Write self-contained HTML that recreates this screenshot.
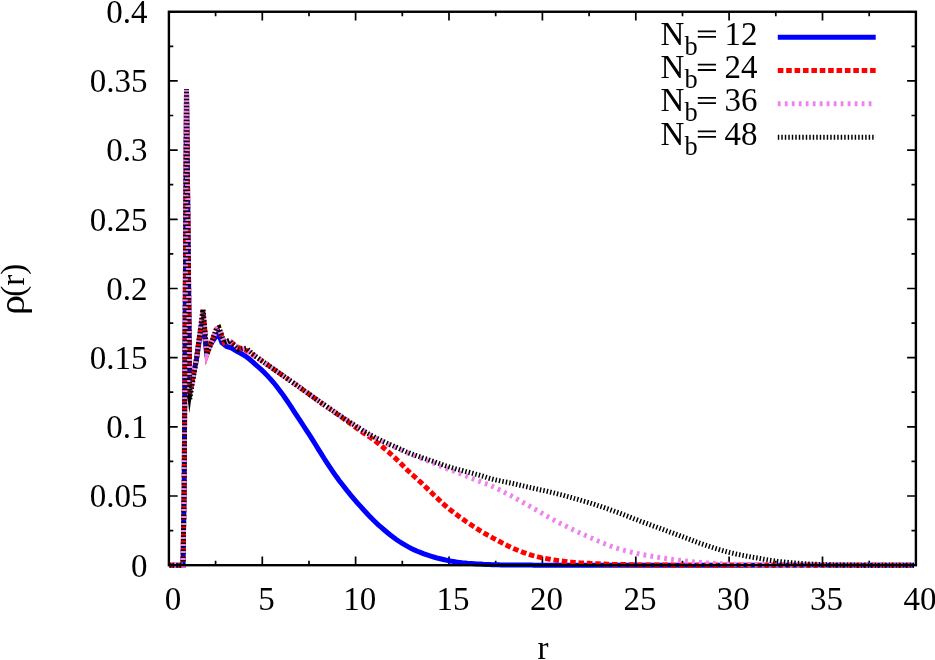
<!DOCTYPE html>
<html><head><meta charset="utf-8"><title>rho(r)</title>
<style>
html,body{margin:0;padding:0;background:#fff;}
body{width:935px;height:660px;overflow:hidden;}
svg{display:block;will-change:transform;}
text{font-family:"Liberation Serif",serif;font-size:33px;fill:#000;}
</style></head><body>
<svg width="935" height="660" viewBox="0 0 935 660">
<rect width="935" height="660" fill="#fff"/>
<g stroke="#000" fill="none" stroke-linecap="butt">
<path d="M168.9,565.2h8.8 M915.9,565.2h-8.8 M168.9,530.6h4.4 M915.9,530.6h-4.4 M168.9,496.0h8.8 M915.9,496.0h-8.8 M168.9,461.4h4.4 M915.9,461.4h-4.4 M168.9,426.8h8.8 M915.9,426.8h-8.8 M168.9,392.2h4.4 M915.9,392.2h-4.4 M168.9,357.7h8.8 M915.9,357.7h-8.8 M168.9,323.1h4.4 M915.9,323.1h-4.4 M168.9,288.5h8.8 M915.9,288.5h-8.8 M168.9,253.9h4.4 M915.9,253.9h-4.4 M168.9,219.3h8.8 M915.9,219.3h-8.8 M168.9,184.7h4.4 M915.9,184.7h-4.4 M168.9,150.1h8.8 M915.9,150.1h-8.8 M168.9,115.5h4.4 M915.9,115.5h-4.4 M168.9,80.9h8.8 M915.9,80.9h-8.8 M168.9,46.3h4.4 M915.9,46.3h-4.4 M168.9,11.8h8.8 M915.9,11.8h-8.8 M168.9,565.2v-8.8 M168.9,11.8v8.8 M215.6,565.2v-4.4 M215.6,11.8v4.4 M262.3,565.2v-8.8 M262.3,11.8v8.8 M309.0,565.2v-4.4 M309.0,11.8v4.4 M355.6,565.2v-8.8 M355.6,11.8v8.8 M402.3,565.2v-4.4 M402.3,11.8v4.4 M449.0,565.2v-8.8 M449.0,11.8v8.8 M495.7,565.2v-4.4 M495.7,11.8v4.4 M542.4,565.2v-8.8 M542.4,11.8v8.8 M589.1,565.2v-4.4 M589.1,11.8v4.4 M635.8,565.2v-8.8 M635.8,11.8v8.8 M682.5,565.2v-4.4 M682.5,11.8v4.4 M729.1,565.2v-8.8 M729.1,11.8v8.8 M775.8,565.2v-4.4 M775.8,11.8v4.4 M822.5,565.2v-8.8 M822.5,11.8v8.8 M869.2,565.2v-4.4 M869.2,11.8v4.4 M915.9,565.2v-8.8 M915.9,11.8v8.8" stroke-width="1.7"/>
</g>
<clipPath id="c"><rect x="167.7" y="10.6" width="749.4" height="557.5"/></clipPath>
<g clip-path="url(#c)">
<polyline points="169.5,565.2 183.0,565.2 184.2,488.0 186.5,89.0 189.8,393.0 196.5,359.0 202.8,318.0 206.3,350.5 218.2,333.2 221.9,342.6 226.6,346.4 231.2,347.8 237.3,351.5 240.3,353.0 243.3,354.8 246.3,356.7 249.3,359.0 252.3,361.6 255.3,364.3 258.3,367.0 261.3,369.6 264.3,372.5 267.3,375.6 270.3,378.9 273.3,382.3 276.3,386.0 279.3,389.9 282.3,393.9 285.3,398.2 288.3,402.7 291.3,407.2 294.3,411.8 297.3,416.3 300.3,420.9 303.3,425.5 306.3,430.1 309.3,434.7 312.3,439.4 315.3,444.2 318.3,449.1 321.3,453.9 324.3,458.7 327.3,463.3 330.3,467.8 333.3,472.3 336.3,476.6 339.3,480.7 342.3,484.6 345.3,488.4 348.3,492.2 351.3,495.8 354.3,499.3 357.3,502.8 360.3,506.2 363.3,509.5 366.3,512.8 369.3,516.0 372.3,519.1 375.3,522.0 378.3,524.8 381.3,527.4 384.3,530.0 387.3,532.5 390.3,535.0 393.3,537.3 396.3,539.5 399.3,541.5 402.3,543.4 405.3,545.2 408.3,546.9 411.3,548.4 414.3,549.9 417.3,551.2 420.3,552.4 423.3,553.6 426.3,554.7 429.3,555.7 432.3,556.6 435.3,557.5 438.3,558.3 441.3,559.0 444.3,559.7 447.3,560.4 450.3,561.0 453.3,561.5 456.3,562.0 459.3,562.4 462.3,562.8 465.3,563.1 468.3,563.4 471.3,563.6 474.3,563.8 477.3,564.0 480.3,564.1 483.3,564.3 486.3,564.4 489.3,564.5 492.3,564.7 495.3,564.7 498.3,564.8 501.3,564.9 504.3,564.9 507.3,565.0 510.3,565.0 513.3,565.0 516.3,565.1 519.3,565.1 522.3,565.1 525.3,565.1 528.3,565.1 531.3,565.1 534.3,565.2 537.3,565.2 540.3,565.2 543.3,565.2 546.3,565.2 549.3,565.2 552.3,565.2 555.3,565.2 558.3,565.2 561.3,565.2 564.3,565.2 567.3,565.2 570.3,565.2 573.3,565.2 576.3,565.2 579.3,565.2 582.3,565.2 585.3,565.2 588.3,565.2 591.3,565.2 594.3,565.2 597.3,565.2 600.3,565.2 603.3,565.2 606.3,565.2 609.3,565.2 612.3,565.2 615.3,565.2 618.3,565.2 621.3,565.2 624.3,565.2 627.3,565.2 630.3,565.2 633.3,565.2 636.3,565.2 639.3,565.2 642.3,565.2 645.3,565.2 648.3,565.2 651.3,565.2 654.3,565.2 657.3,565.2 660.3,565.2 663.3,565.2 666.3,565.2 669.3,565.2 672.3,565.2 675.3,565.2 678.3,565.2 681.3,565.2 684.3,565.2 687.3,565.2 690.3,565.2 693.3,565.2 696.3,565.2 699.3,565.2 702.3,565.2 705.3,565.2 708.3,565.2 711.3,565.2 714.3,565.2 717.3,565.2 720.3,565.2 723.3,565.2 726.3,565.2 729.3,565.2 732.3,565.2 735.3,565.2 738.3,565.2 741.3,565.2 744.3,565.2 747.3,565.2 750.3,565.2 753.3,565.2 756.3,565.2 759.3,565.2 762.3,565.2 765.3,565.2 768.3,565.2 771.3,565.2 774.3,565.2 777.3,565.2 780.3,565.2 783.3,565.2 786.3,565.2 789.3,565.2 792.3,565.2 795.3,565.2 798.3,565.2 801.3,565.2 804.3,565.2 807.3,565.2 810.3,565.2 813.3,565.2 816.3,565.2 819.3,565.2 822.3,565.2 825.3,565.2 828.3,565.2 831.3,565.2 834.3,565.2 837.3,565.2 840.3,565.2 843.3,565.2 846.3,565.2 849.3,565.2 852.3,565.2 855.3,565.2 858.3,565.2 861.3,565.2 864.3,565.2 867.3,565.2 870.3,565.2 873.3,565.2 876.3,565.2 879.3,565.2 882.3,565.2 885.3,565.2 888.3,565.2 891.3,565.2 894.3,565.2 897.3,565.2 900.3,565.2 903.3,565.2 906.3,565.2 909.3,565.2 912.3,565.2 914.0,565.2" fill="none" stroke="#0000ff" stroke-width="5.0" stroke-linejoin="miter" stroke-miterlimit="4" stroke-linecap="butt"/>
<polyline points="169.5,565.2 183.0,565.2 184.2,488.0 186.5,89.0 189.8,393.0 196.5,359.0 203.0,309.5 207.0,354.2 216.4,329.0 218.9,327.7 224.3,342.6 229.2,340.6" fill="none" stroke="#ff0000" stroke-width="5.0" stroke-linejoin="miter" stroke-miterlimit="6" stroke-linecap="butt" stroke-dasharray="5.59,2.80" stroke-dashoffset="0"/>
<polyline points="224.3,342.6 229.2,340.6 237.3,347.0 246.4,350.4 255.5,356.4 264.5,362.7 282.7,375.5 300.9,388.2 319.1,401.5 322.1,403.6 325.1,405.6 328.1,407.7 331.1,409.8 334.1,411.9 337.1,414.1 340.1,416.2 343.1,418.3 346.1,420.5 349.1,422.6 352.1,424.8 355.1,427.0 358.1,429.1 361.1,431.2 364.1,433.3 367.1,435.2 370.1,437.3 373.1,439.4 376.1,441.7 379.1,444.1 382.1,446.5 385.1,449.1 388.1,451.6 391.1,454.3 394.1,457.0 397.1,459.8 400.1,462.7 403.1,465.8 406.1,468.9 409.1,471.8 412.1,474.6 415.1,477.2 418.1,479.9 421.1,482.6 424.1,485.5 427.1,488.4 430.1,491.3 433.1,494.2 436.1,497.1 439.1,499.9 442.1,502.8 445.1,505.5 448.1,508.0 451.1,510.5 454.1,512.8 457.1,515.1 460.1,517.3 463.1,519.4 466.1,521.5 469.1,523.5 472.1,525.5 475.1,527.5 478.1,529.4 481.1,531.3 484.1,533.1 487.1,534.8 490.1,536.4 493.1,538.1 496.1,539.7 499.1,541.3 502.1,542.9 505.1,544.5 508.1,546.0 511.1,547.5 514.1,548.8 517.1,550.0 520.1,551.2 523.1,552.3 526.1,553.3 529.1,554.4 532.1,555.3 535.1,556.1 538.1,556.9 541.1,557.6 544.1,558.2 547.1,558.8 550.1,559.3 553.1,559.8 556.1,560.3 559.1,560.7 562.1,561.1 565.1,561.5 568.1,561.9 571.1,562.2 574.1,562.5 577.1,562.7 580.1,562.9 583.1,563.1 586.1,563.3 589.1,563.4 592.1,563.6 595.1,563.7 598.1,563.8 601.1,564.0 604.1,564.1 607.1,564.2 610.1,564.3 613.1,564.4 616.1,564.5 619.1,564.5 622.1,564.6 625.1,564.6 628.1,564.7 631.1,564.8 634.1,564.8 637.1,564.9 640.1,564.9 643.1,564.9 646.1,565.0 649.1,565.0 652.1,565.0 655.1,565.1 658.1,565.1 661.1,565.1 664.1,565.1 667.1,565.1 670.1,565.1 673.1,565.2 676.1,565.2 679.1,565.2 682.1,565.2 685.1,565.2 688.1,565.2 691.1,565.2 694.1,565.2 697.1,565.2 700.1,565.2 703.1,565.2 706.1,565.2 709.1,565.2 712.1,565.2 715.1,565.2 718.1,565.2 721.1,565.2 724.1,565.2 727.1,565.2 730.1,565.2 733.1,565.2 736.1,565.2 739.1,565.2 742.1,565.2 745.1,565.2 748.1,565.2 751.1,565.2 754.1,565.2 757.1,565.2 760.1,565.2 763.1,565.2 766.1,565.2 769.1,565.2 772.1,565.2 775.1,565.2 778.1,565.2 781.1,565.2 784.1,565.2 787.1,565.2 790.1,565.2 793.1,565.2 796.1,565.2 799.1,565.2 802.1,565.2 805.1,565.2 808.1,565.2 811.1,565.2 814.1,565.2 817.1,565.2 820.1,565.2 823.1,565.2 826.1,565.2 829.1,565.2 832.1,565.2 835.1,565.2 838.1,565.2 841.1,565.2 844.1,565.2 847.1,565.2 850.1,565.2 853.1,565.2 856.1,565.2 859.1,565.2 862.1,565.2 865.1,565.2 868.1,565.2 871.1,565.2 874.1,565.2 877.1,565.2 880.1,565.2 883.1,565.2 886.1,565.2 889.1,565.2 892.1,565.2 895.1,565.2 898.1,565.2 901.1,565.2 904.1,565.2 907.1,565.2 910.1,565.2 913.1,565.2 914.0,565.2" fill="none" stroke="#ff0000" stroke-width="5.0" stroke-linejoin="miter" stroke-miterlimit="6" stroke-linecap="butt" stroke-dasharray="5.59,2.80" stroke-dashoffset="2.0"/>
<polyline points="169.5,565.2 183.0,565.2 184.2,488.0 186.5,89.0 189.8,392.1 196.5,359.0 203.0,309.5 207.0,354.2 216.4,329.0 218.9,327.7 224.3,342.6 229.2,340.6" fill="none" stroke="#ee82ee" stroke-width="5.0" stroke-linejoin="miter" stroke-miterlimit="6" stroke-linecap="butt" stroke-dasharray="2.80,4.19" stroke-dashoffset="2.5"/>
<polyline points="224.3,342.6 229.2,340.6 237.3,347.0 246.4,350.4 255.5,356.4 264.5,362.7 282.7,375.5 300.9,388.2 319.1,401.2 322.1,403.2 325.1,405.3 328.1,407.3 331.1,409.3 334.1,411.4 337.1,413.4 340.1,415.4 343.1,417.4 346.1,419.4 349.1,421.4 352.1,423.3 355.1,425.2 358.1,427.0 361.1,428.9 364.1,430.9 367.1,433.0 370.1,434.9 373.1,436.7 376.1,438.3 379.1,439.9 382.1,441.3 385.1,442.7 388.1,444.2 391.1,445.5 394.1,446.9 397.1,448.2 400.1,449.6 403.1,451.0 406.1,452.3 409.1,453.6 412.1,454.8 415.1,456.0 418.1,457.1 421.1,458.3 424.1,459.4 427.1,460.6 430.1,461.7 433.1,462.9 436.1,464.2 439.1,465.5 442.1,466.8 445.1,468.0 448.1,469.2 451.1,470.2 454.1,471.2 457.1,472.3 460.1,473.5 463.1,474.7 466.1,475.9 469.1,477.2 472.1,478.4 475.1,479.6 478.1,480.8 481.1,481.9 484.1,483.1 487.1,484.2 490.1,485.3 493.1,486.7 496.1,488.1 499.1,489.6 502.1,491.1 505.1,492.7 508.1,494.2 511.1,495.8 514.1,497.4 517.1,499.1 520.1,500.8 523.1,502.5 526.1,504.2 529.1,505.9 532.1,507.6 535.1,509.3 538.1,511.0 541.1,512.8 544.1,514.5 547.1,516.3 550.1,518.0 553.1,519.6 556.1,521.2 559.1,522.8 562.1,524.3 565.1,525.8 568.1,527.3 571.1,528.8 574.1,530.2 577.1,531.6 580.1,533.0 583.1,534.4 586.1,535.8 589.1,537.1 592.1,538.4 595.1,539.7 598.1,541.0 601.1,542.2 604.1,543.5 607.1,544.7 610.1,545.9 613.1,547.0 616.1,548.0 619.1,548.9 622.1,549.8 625.1,550.6 628.1,551.4 631.1,552.1 634.1,552.8 637.1,553.5 640.1,554.1 643.1,554.7 646.1,555.3 649.1,555.8 652.1,556.3 655.1,556.8 658.1,557.3 661.1,557.8 664.1,558.3 667.1,558.7 670.1,559.1 673.1,559.5 676.1,559.9 679.1,560.3 682.1,560.7 685.1,561.0 688.1,561.3 691.1,561.6 694.1,561.9 697.1,562.2 700.1,562.4 703.1,562.7 706.1,562.9 709.1,563.1 712.1,563.3 715.1,563.5 718.1,563.6 721.1,563.8 724.1,564.0 727.1,564.1 730.1,564.2 733.1,564.3 736.1,564.4 739.1,564.5 742.1,564.6 745.1,564.7 748.1,564.8 751.1,564.9 754.1,564.9 757.1,565.0 760.1,565.0 763.1,565.0 766.1,565.1 769.1,565.1 772.1,565.1 775.1,565.1 778.1,565.1 781.1,565.1 784.1,565.2 787.1,565.2 790.1,565.2 793.1,565.2 796.1,565.2 799.1,565.2 802.1,565.2 805.1,565.2 808.1,565.2 811.1,565.2 814.1,565.2 817.1,565.2 820.1,565.2 823.1,565.2 826.1,565.2 829.1,565.2 832.1,565.2 835.1,565.2 838.1,565.2 841.1,565.2 844.1,565.2 847.1,565.2 850.1,565.2 853.1,565.2 856.1,565.2 859.1,565.2 862.1,565.2 865.1,565.2 868.1,565.2 871.1,565.2 874.1,565.2 877.1,565.2 880.1,565.2 883.1,565.2 886.1,565.2 889.1,565.2 892.1,565.2 895.1,565.2 898.1,565.2 901.1,565.2 904.1,565.2 907.1,565.2 910.1,565.2 913.1,565.2 914.0,565.2" fill="none" stroke="#ee82ee" stroke-width="5.0" stroke-linejoin="miter" stroke-miterlimit="6" stroke-linecap="butt" stroke-dasharray="2.80,4.19" stroke-dashoffset="0.67"/>
<polyline points="169.5,565.2 183.0,565.2 184.2,488.0 186.5,89.0 189.7,399.2 196.5,359.0 203.0,309.5 207.0,354.2 216.4,329.0 218.9,327.7 224.3,342.6 229.2,340.6" fill="none" stroke="#000000" stroke-width="5.0" stroke-linejoin="miter" stroke-miterlimit="6" stroke-linecap="butt" stroke-dasharray="1.46,2.035" stroke-dashoffset="0.25"/>
<polyline points="224.3,342.6 229.2,340.6 238.2,349.6 246.4,348.2 255.5,356.4 264.5,362.7 282.7,375.5 300.9,388.2 319.1,401.3 322.1,403.4 325.1,405.4 328.1,407.5 331.1,409.5 334.1,411.6 337.1,413.6 340.1,415.7 343.1,417.7 346.1,419.7 349.1,421.7 352.1,423.6 355.1,425.6 358.1,427.5 361.1,429.3 364.1,431.2 367.1,433.0 370.1,434.7 373.1,436.4 376.1,438.0 379.1,439.5 382.1,440.9 385.1,442.3 388.1,443.7 391.1,445.0 394.1,446.3 397.1,447.6 400.1,449.0 403.1,450.3 406.1,451.7 409.1,452.9 412.1,454.1 415.1,455.2 418.1,456.2 421.1,457.3 424.1,458.3 427.1,459.3 430.1,460.3 433.1,461.3 436.1,462.4 439.1,463.5 442.1,464.6 445.1,465.7 448.1,466.6 451.1,467.5 454.1,468.4 457.1,469.3 460.1,470.1 463.1,470.8 466.1,471.6 469.1,472.3 472.1,473.1 475.1,474.0 478.1,474.8 481.1,475.7 484.1,476.6 487.1,477.6 490.1,478.5 493.1,479.3 496.1,480.0 499.1,480.6 502.1,481.3 505.1,481.9 508.1,482.5 511.1,483.1 514.1,483.8 517.1,484.5 520.1,485.2 523.1,485.9 526.1,486.6 529.1,487.3 532.1,487.9 535.1,488.6 538.1,489.3 541.1,490.0 544.1,490.6 547.1,491.3 550.1,492.0 553.1,492.7 556.1,493.5 559.1,494.3 562.1,495.0 565.1,495.9 568.1,496.7 571.1,497.5 574.1,498.4 577.1,499.2 580.1,500.1 583.1,501.0 586.1,501.8 589.1,502.7 592.1,503.7 595.1,504.6 598.1,505.6 601.1,506.6 604.1,507.6 607.1,508.6 610.1,509.7 613.1,510.8 616.1,511.9 619.1,513.0 622.1,514.1 625.1,515.3 628.1,516.4 631.1,517.6 634.1,518.8 637.1,519.9 640.1,521.1 643.1,522.2 646.1,523.3 649.1,524.4 652.1,525.5 655.1,526.6 658.1,527.7 661.1,528.8 664.1,529.9 667.1,531.0 670.1,532.1 673.1,533.2 676.1,534.3 679.1,535.4 682.1,536.6 685.1,537.7 688.1,538.8 691.1,539.9 694.1,541.1 697.1,542.2 700.1,543.3 703.1,544.3 706.1,545.3 709.1,546.3 712.1,547.3 715.1,548.3 718.1,549.2 721.1,550.1 724.1,551.0 727.1,551.8 730.1,552.6 733.1,553.3 736.1,554.0 739.1,554.6 742.1,555.3 745.1,555.8 748.1,556.4 751.1,557.0 754.1,557.5 757.1,558.0 760.1,558.5 763.1,559.1 766.1,559.6 769.1,560.1 772.1,560.5 775.1,561.0 778.1,561.4 781.1,561.7 784.1,562.0 787.1,562.3 790.1,562.6 793.1,562.9 796.1,563.1 799.1,563.3 802.1,563.5 805.1,563.7 808.1,563.9 811.1,564.0 814.1,564.2 817.1,564.3 820.1,564.5 823.1,564.6 826.1,564.7 829.1,564.8 832.1,564.9 835.1,564.9 838.1,565.0 841.1,565.0 844.1,565.0 847.1,565.1 850.1,565.1 853.1,565.1 856.1,565.1 859.1,565.2 862.1,565.2 865.1,565.2 868.1,565.2 871.1,565.2 874.1,565.2 877.1,565.2 880.1,565.2 883.1,565.2 886.1,565.2 889.1,565.2 892.1,565.2 895.1,565.2 898.1,565.2 901.1,565.2 904.1,565.2 907.1,565.2 910.1,565.2 913.1,565.2 914.0,565.2" fill="none" stroke="#000000" stroke-width="5.0" stroke-linejoin="miter" stroke-miterlimit="6" stroke-linecap="butt" stroke-dasharray="1.46,2.035" stroke-dashoffset="0.0"/>
<polygon points="187.2,394.5 191.9,394.5 189.3,413.2" fill="#000"/>
</g>
<rect x="168.90" y="11.75" width="747.00" height="553.45" stroke="#000" fill="none" stroke-width="2.4"/>
<text x="147.6" y="576.5" text-anchor="end">0</text>
<text x="147.6" y="507.3" text-anchor="end">0.05</text>
<text x="147.6" y="438.1" text-anchor="end">0.1</text>
<text x="147.6" y="369.0" text-anchor="end">0.15</text>
<text x="147.6" y="299.8" text-anchor="end">0.2</text>
<text x="147.6" y="230.6" text-anchor="end">0.25</text>
<text x="147.6" y="161.4" text-anchor="end">0.3</text>
<text x="147.6" y="92.2" text-anchor="end">0.35</text>
<text x="147.6" y="23.1" text-anchor="end">0.4</text>
<text x="173.0" y="610.3" text-anchor="middle">0</text>
<text x="266.4" y="610.3" text-anchor="middle">5</text>
<text x="359.8" y="610.3" text-anchor="middle">10</text>
<text x="453.1" y="610.3" text-anchor="middle">15</text>
<text x="546.5" y="610.3" text-anchor="middle">20</text>
<text x="639.9" y="610.3" text-anchor="middle">25</text>
<text x="733.2" y="610.3" text-anchor="middle">30</text>
<text x="826.6" y="610.3" text-anchor="middle">35</text>
<text x="920.0" y="610.3" text-anchor="middle">40</text>
<text x="543" y="658.6" text-anchor="middle">r</text>
<g transform="translate(24.2,288.3) rotate(-90)"><text x="-8.4" y="0">(r)</text><text transform="translate(-6.5,0) scale(1.22,1.06)" text-anchor="end">ρ</text></g>
<text x="660.6" y="44.9">N<tspan font-size="26.4px" dy="9.6">b</tspan></text>
<path d="M697.8,31.40H716 M697.8,36.80H716" stroke="#000" stroke-width="1.8" fill="none"/>
<text x="757.6" y="44.9" text-anchor="end">12</text>
<path d="M777.8,37.3H875.7" stroke="#0000ff" stroke-width="5" fill="none"/>
<text x="660.6" y="78.1">N<tspan font-size="26.4px" dy="9.6">b</tspan></text>
<path d="M697.8,64.60H716 M697.8,70.00H716" stroke="#000" stroke-width="1.8" fill="none"/>
<text x="757.6" y="78.1" text-anchor="end">24</text>
<path d="M777.8,70.5H875.7" stroke="#ff0000" stroke-width="5" fill="none" stroke-dasharray="5.59,2.80"/>
<text x="660.6" y="111.3">N<tspan font-size="26.4px" dy="9.6">b</tspan></text>
<path d="M697.8,97.80H716 M697.8,103.20H716" stroke="#000" stroke-width="1.8" fill="none"/>
<text x="757.6" y="111.3" text-anchor="end">36</text>
<path d="M777.8,103.7H875.7" stroke="#ee82ee" stroke-width="5" fill="none" stroke-dasharray="2.80,4.19"/>
<text x="660.6" y="144.9">N<tspan font-size="26.4px" dy="9.6">b</tspan></text>
<path d="M697.8,131.40H716 M697.8,136.80H716" stroke="#000" stroke-width="1.8" fill="none"/>
<text x="757.6" y="144.9" text-anchor="end">48</text>
<path d="M777.8,137.3H875.7" stroke="#000000" stroke-width="5" fill="none" stroke-dasharray="1.46,2.035"/>
</svg>
</body></html>
